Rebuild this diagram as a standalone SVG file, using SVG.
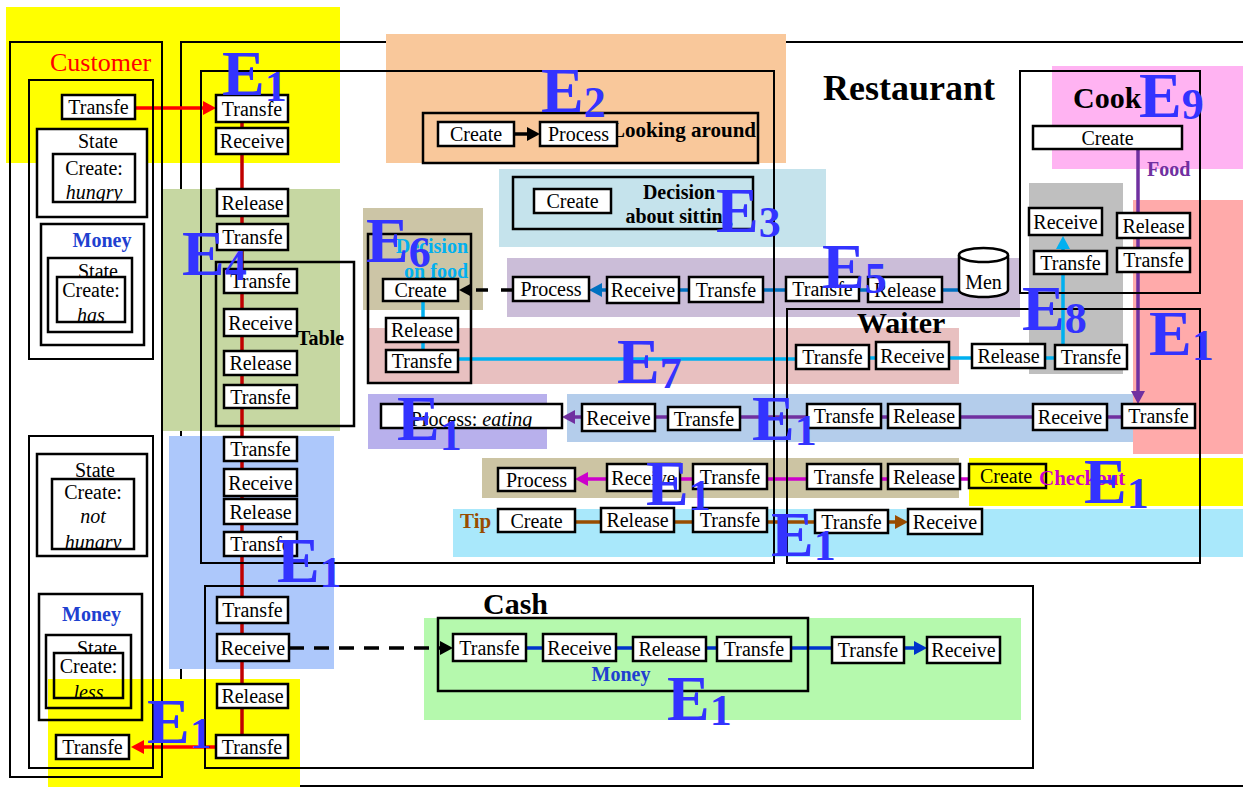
<svg xmlns="http://www.w3.org/2000/svg" width="1243" height="787" viewBox="0 0 1243 787">
<defs>
<style>
.b{fill:#fff;stroke:#000;stroke-width:2.5}
.n{fill:none;stroke:#000;stroke-width:2.5}
.o{fill:none;stroke:#000;stroke-width:2}
.t{font-family:'Liberation Serif','Times New Roman',serif;font-size:20px;text-anchor:middle;fill:#000}
.i{font-style:italic}
.h{font-family:'Liberation Serif','Times New Roman',serif;font-weight:bold;fill:#000}
.E{font-family:'Liberation Serif','Times New Roman',serif;font-weight:bold;font-size:64px;fill:#3333FF}
.s{font-size:44px}
.l{fill:none;stroke-width:3.5}
</style>
<marker id="aR" viewBox="0 0 13 14" refX="0" refY="7" markerUnits="userSpaceOnUse" markerWidth="13" markerHeight="14" orient="auto"><path d="M0,0L13,7L0,14z" fill="#FF0000"/></marker>
<marker id="aK" viewBox="0 0 13 14" refX="0" refY="7" markerUnits="userSpaceOnUse" markerWidth="13" markerHeight="14" orient="auto"><path d="M0,0L13,7L0,14z" fill="#000"/></marker>
<marker id="aB" viewBox="0 0 13 14" refX="0" refY="7" markerUnits="userSpaceOnUse" markerWidth="13" markerHeight="14" orient="auto"><path d="M0,0L13,7L0,14z" fill="#0070C0"/></marker>
<marker id="aC" viewBox="0 0 13 14" refX="0" refY="7" markerUnits="userSpaceOnUse" markerWidth="13" markerHeight="14" orient="auto"><path d="M0,0L13,7L0,14z" fill="#00B0F0"/></marker>
<marker id="aP" viewBox="0 0 13 14" refX="0" refY="7" markerUnits="userSpaceOnUse" markerWidth="13" markerHeight="14" orient="auto"><path d="M0,0L13,7L0,14z" fill="#7030A0"/></marker>
<marker id="aM" viewBox="0 0 13 14" refX="0" refY="7" markerUnits="userSpaceOnUse" markerWidth="13" markerHeight="14" orient="auto"><path d="M0,0L13,7L0,14z" fill="#CC00CC"/></marker>
<marker id="aN" viewBox="0 0 13 14" refX="0" refY="7" markerUnits="userSpaceOnUse" markerWidth="13" markerHeight="14" orient="auto"><path d="M0,0L13,7L0,14z" fill="#994C00"/></marker>
<marker id="aD" viewBox="0 0 13 14" refX="0" refY="7" markerUnits="userSpaceOnUse" markerWidth="13" markerHeight="14" orient="auto"><path d="M0,0L13,7L0,14z" fill="#0033CC"/></marker>
<clipPath id="cp1"><rect x="53" y="154" width="82" height="48"/></clipPath>
<clipPath id="cp2"><rect x="57" y="277" width="68" height="45"/></clipPath>
<clipPath id="cp3"><rect x="52" y="479" width="82" height="70"/></clipPath>
<clipPath id="cp4"><rect x="54" y="653" width="69" height="45"/></clipPath>
<clipPath id="cp5"><rect x="46" y="635" width="85" height="18"/></clipPath>
<clipPath id="cp6"><rect x="381" y="404" width="181" height="24"/></clipPath>
</defs>

<rect x="6" y="7" width="334" height="156" fill="#FFFF00"/>
<g id="restaurant">
<rect class="o" x="181" y="42" width="1080" height="744"/>
<text class="h" x="823" y="100" font-size="36">Restaurant</text>
</g>

<g id="regions">
<rect x="386" y="34" width="400" height="129" fill="#F9C89B"/>
<rect x="499" y="169" width="327" height="78" fill="#C5E3EC"/>
<rect x="161" y="189" width="179" height="242" fill="#C6D7A2"/>
<rect x="363" y="208" width="120" height="102" fill="#CCC5A6"/>
<rect x="507" y="258" width="513" height="59" fill="#CBBDD8"/>
<rect x="368" y="328" width="591" height="56" fill="#E8C0C0"/>
<rect x="1029" y="183" width="94" height="191" fill="#BFBFBF"/>
<rect x="1052" y="66" width="191" height="103" fill="#FFB3F2"/>
<rect x="1133" y="200" width="110" height="254" fill="#FFAAAA"/>
<rect x="368" y="394" width="179" height="55" fill="#B8B0EC"/>
<rect x="567" y="394" width="566" height="48" fill="#B4CDEB"/>
<rect x="482" y="458" width="477" height="40" fill="#CCC4A3"/>
<rect x="969" y="458" width="274" height="48" fill="#FFFF00"/>
<rect x="453" y="509" width="790" height="48" fill="#A9E8FB"/>
<rect x="169" y="436" width="165" height="233" fill="#ADC8FB"/>
<rect x="424" y="618" width="597" height="102" fill="#B5F9AD"/>
<rect x="48" y="679" width="252" height="108" fill="#FFFF00"/>
</g>

<g id="connectors">
<line class="l" x1="135" y1="108" x2="203" y2="108" stroke="#FF0000" marker-end="url(#aR)"/>
<line class="l" x1="242" y1="122" x2="242" y2="735" stroke="#C00000"/>
<line class="l" x1="216" y1="747" x2="144" y2="747" stroke="#FF0000" marker-end="url(#aR)"/>
<line class="l" x1="514" y1="134" x2="527" y2="134" stroke="#000" marker-end="url(#aK)"/>
<path class="l" d="M679,290H689M763,290H786M859,290H868M942,290H959" stroke="#0070C0"/>
<line class="l" x1="607" y1="290" x2="602" y2="290" stroke="#0070C0" marker-end="url(#aB)"/>
<line class="l" x1="513" y1="290" x2="472" y2="290" stroke="#000" stroke-dasharray="12 13" marker-end="url(#aK)"/>
<path class="l" d="M423,301V350M458,359H796M869,358H876M949,358H972M1045,358H1055M1063,274V345" stroke="#00B0F0"/>
<line class="l" x1="1063" y1="251" x2="1063" y2="249" stroke="#00B0F0" marker-end="url(#aC)"/>
<line class="l" x1="1138" y1="149" x2="1138" y2="391" stroke="#7030A0" marker-end="url(#aP)"/>
<path class="l" d="M655,417H668M740,417H807M881,417H888M960,417H1033M1107,417H1122" stroke="#7030A0"/>
<line class="l" x1="582" y1="417" x2="575" y2="417" stroke="#7030A0" marker-end="url(#aP)"/>
<path class="l" d="M680,479H693M767,479H807M881,479H888M960,479H969" stroke="#CC00CC"/>
<line class="l" x1="607" y1="479" x2="588" y2="479" stroke="#CC00CC" marker-end="url(#aM)"/>
<path class="l" d="M575,522H601M674,522H693M767,522H815" stroke="#994C00"/>
<line class="l" x1="888" y1="522" x2="895" y2="522" stroke="#994C00" marker-end="url(#aN)"/>
<path class="l" d="M526,648H543M616,648H633M706,648H717M791,648H832" stroke="#0033CC"/>
<line class="l" x1="904" y1="648" x2="914" y2="648" stroke="#0033CC" marker-end="url(#aD)"/>
<line class="l" x1="289" y1="648" x2="440" y2="648" stroke="#000" stroke-dasharray="15 10" marker-end="url(#aK)"/>
</g>

<g id="customer">
<rect class="o" x="10" y="42" width="152" height="735"/>
<text x="50" y="71" font-family="'Liberation Serif','Times New Roman',serif" font-size="26" fill="#FF0000">Customer</text>
<rect class="o" x="29" y="80" width="124" height="279"/>
<rect class="o" x="29" y="436" width="124" height="332"/>
</g>
<g id="c-transfe-1"><rect class="b" x="62" y="95" width="73" height="24"/><text class="t" x="98.5" y="114">Transfe</text></g>
<g id="c-state-hungry">
<rect class="b" x="37" y="129" width="110" height="88"/>
<text class="t" x="98" y="148">State</text>
<rect class="b" x="53" y="154" width="82" height="48"/>
<text class="t" x="94" y="175">Create:</text>
<text class="t i" x="94" y="199" clip-path="url(#cp1)">hungry</text>
</g>
<g id="c-money-has">
<rect class="b" x="41" y="224" width="103" height="121"/>
<text class="h" x="102" y="247" font-size="20" text-anchor="middle" style="fill:#2040D0">Money</text>
<rect class="b" x="48" y="258" width="84" height="74"/>
<text class="t" x="98" y="278">State</text>
<rect class="b" x="57" y="277" width="68" height="45"/>
<text class="t" x="91" y="297">Create:</text>
<text class="t i" x="91" y="322" clip-path="url(#cp2)">has</text>
</g>
<g id="c-state-not-hungry">
<rect class="b" x="37" y="454" width="110" height="102"/>
<text class="t" x="95" y="477">State</text>
<rect class="b" x="52" y="479" width="82" height="70"/>
<text class="t" x="93" y="499">Create:</text>
<text class="t i" x="93" y="523">not</text>
<text class="t i" x="93" y="549" clip-path="url(#cp3)">hungry</text>
</g>
<g id="c-money-less">
<rect class="o" x="39" y="594" width="103" height="126" style="stroke-width:2.5"/>
<text class="h" x="91.5" y="621" font-size="20" text-anchor="middle" style="fill:#2040D0">Money</text>
<rect class="o" x="46" y="635" width="85" height="73" style="stroke-width:2.5"/>
<text class="t" x="97" y="655" clip-path="url(#cp5)">State</text>
<rect class="o" x="54" y="653" width="69" height="45" style="stroke-width:2.5"/>
<text class="t" x="88.5" y="673">Create:</text>
<text class="t i" x="88.5" y="699" clip-path="url(#cp4)">less</text>
</g>
<g id="c-transfe-2"><rect class="b" x="56" y="735" width="73" height="24"/><text class="t" x="92.5" y="754">Transfe</text></g>

<g id="dining"><rect class="o" x="201" y="71" width="573" height="492"/></g>
<g id="table"><rect class="n" x="216" y="262" width="138" height="164"/><text class="h" x="297" y="345" font-size="20">Table</text></g>
<g id="waiter"><rect class="o" x="787" y="309" width="413" height="254"/><text class="h" x="857" y="333" font-size="30">Waiter</text></g>
<g id="cook"><rect class="o" x="1020" y="71" width="180" height="222"/><text class="h" x="1073" y="108" font-size="30">Cook</text>
<text class="h" x="1147" y="176" font-size="20" style="fill:#7030A0">Food</text></g>
<g id="cash"><rect class="o" x="205" y="586" width="828" height="182"/><text class="h" x="483" y="614" font-size="30">Cash</text></g>
<g id="cash-money"><rect class="n" x="438" y="618" width="370" height="73"/><text class="h" x="621" y="681" font-size="20" text-anchor="middle" style="fill:#2040D0">Money</text></g>
<g id="looking-around"><rect class="n" x="423" y="113" width="335" height="50"/><text class="h" x="756" y="137" font-size="21" text-anchor="end">Looking around</text></g>
<g id="decision-sitting"><rect class="n" x="513" y="177" width="240" height="52"/>
<text class="h" x="679" y="199" font-size="20" text-anchor="middle">Decision</text>
<text class="h" x="679" y="223" font-size="20" text-anchor="middle">about sitting</text></g>
<g id="decision-food"><rect class="n" x="368" y="234" width="103" height="149"/>
<text class="h" x="468" y="253" font-size="20" text-anchor="end" style="fill:#00B0F0">Decision</text>
<text class="h" x="468" y="278" font-size="20" text-anchor="end" style="fill:#00B0F0">on food</text></g>
<g id="menu"><path class="b" d="M959,255V290A24.5,7 0 0 0 1008,290V255"/><ellipse class="b" cx="983.5" cy="255" rx="24.5" ry="7"/><text class="t" x="983.5" y="289">Men</text></g>

<g id="r1"><rect class="b" x="216" y="95" width="72" height="27"/><text class="t" x="252" y="115.5">Transfe</text></g>
<g id="r2"><rect class="b" x="216" y="128" width="72" height="26"/><text class="t" x="252" y="148">Receive</text></g>
<g id="r3"><rect class="b" x="217" y="189" width="71" height="27"/><text class="t" x="252.5" y="209.5">Release</text></g>
<g id="r4"><rect class="b" x="217" y="224" width="71" height="26"/><text class="t" x="252.5" y="244">Transfe</text></g>
<g id="t1"><rect class="b" x="224" y="269" width="73" height="24"/><text class="t" x="260.5" y="288">Transfe</text></g>
<g id="t2"><rect class="b" x="224" y="309" width="73" height="27"/><text class="t" x="260.5" y="329.5">Receive</text></g>
<g id="t3"><rect class="b" x="224" y="351" width="73" height="24"/><text class="t" x="260.5" y="370">Release</text></g>
<g id="t4"><rect class="b" x="224" y="385" width="73" height="23"/><text class="t" x="260.5" y="403.5">Transfe</text></g>
<g id="r5"><rect class="b" x="224" y="437" width="73" height="24"/><text class="t" x="260.5" y="456">Transfe</text></g>
<g id="r6"><rect class="b" x="224" y="469" width="73" height="27"/><text class="t" x="260.5" y="489.5">Receive</text></g>
<g id="r7"><rect class="b" x="224" y="499" width="73" height="25"/><text class="t" x="260.5" y="518.5">Release</text></g>
<g id="r8"><rect class="b" x="224" y="532" width="73" height="24"/><text class="t" x="260.5" y="551">Transfe</text></g>
<g id="r9"><rect class="b" x="217" y="597" width="71" height="26"/><text class="t" x="252.5" y="617">Transfe</text></g>
<g id="r10"><rect class="b" x="217" y="634" width="72" height="27"/><text class="t" x="253" y="654.5">Receive</text></g>
<g id="r11"><rect class="b" x="217" y="684" width="71" height="24"/><text class="t" x="252.5" y="703">Release</text></g>
<g id="r12"><rect class="b" x="216" y="735" width="72" height="23"/><text class="t" x="252" y="753.5">Transfe</text></g>

<g id="e2-create"><rect class="b" x="438" y="122" width="76" height="24"/><text class="t" x="476" y="141">Create</text></g>
<g id="e2-process"><rect class="b" x="540" y="122" width="77" height="24"/><text class="t" x="578.5" y="141">Process</text></g>
<g id="e3-create"><rect class="b" x="534" y="189" width="77" height="24"/><text class="t" x="572.5" y="208">Create</text></g>
<g id="e6-create"><rect class="b" x="383" y="279" width="75" height="22"/><text class="t" x="420.5" y="297">Create</text></g>
<g id="e6-release"><rect class="b" x="386" y="318" width="72" height="24"/><text class="t" x="422" y="337">Release</text></g>
<g id="e6-transfe"><rect class="b" x="386" y="350" width="72" height="22"/><text class="t" x="422" y="368">Transfe</text></g>
<g id="e5-process"><rect class="b" x="513" y="277" width="76" height="24"/><text class="t" x="551" y="296">Process</text></g>
<g id="e5-receive"><rect class="b" x="607" y="277" width="72" height="26"/><text class="t" x="643" y="297">Receive</text></g>
<g id="e5-transfe1"><rect class="b" x="689" y="277" width="74" height="25"/><text class="t" x="726" y="296.5">Transfe</text></g>
<g id="e5-transfe2"><rect class="b" x="786" y="277" width="73" height="24"/><text class="t" x="822.5" y="296">Transfe</text></g>
<g id="e5-release"><rect class="b" x="868" y="277" width="74" height="25"/><text class="t" x="905" y="296.5">Release</text></g>
<g id="cook-create"><rect class="b" x="1033" y="126" width="149" height="23"/><text class="t" x="1107.5" y="144.5">Create</text></g>
<g id="e8-receive"><rect class="b" x="1029" y="208" width="73" height="27"/><text class="t" x="1065.5" y="228.5">Receive</text></g>
<g id="e8-transfe"><rect class="b" x="1034" y="251" width="73" height="23"/><text class="t" x="1070.5" y="269.5">Transfe</text></g>
<g id="cook-release"><rect class="b" x="1117" y="213" width="73" height="25"/><text class="t" x="1153.5" y="232.5">Release</text></g>
<g id="cook-transfe"><rect class="b" x="1117" y="248" width="73" height="24"/><text class="t" x="1153.5" y="267">Transfe</text></g>
<g id="w-transfe1"><rect class="b" x="796" y="345" width="73" height="24"/><text class="t" x="832.5" y="364">Transfe</text></g>
<g id="w-receive1"><rect class="b" x="876" y="342" width="73" height="27"/><text class="t" x="912.5" y="362.5">Receive</text></g>
<g id="w-release1"><rect class="b" x="972" y="344" width="73" height="24"/><text class="t" x="1008.5" y="363">Release</text></g>
<g id="w-transfe2"><rect class="b" x="1055" y="345" width="72" height="24"/><text class="t" x="1091" y="364">Transfe</text></g>
<g id="eat-process"><rect class="b" x="381" y="404" width="181" height="24"/><text class="t" x="471.5" y="425.5" clip-path="url(#cp6)">Process: <tspan class="i">eating</tspan></text></g>
<g id="eat-receive"><rect class="b" x="582" y="404" width="73" height="27"/><text class="t" x="618.5" y="424.5">Receive</text></g>
<g id="eat-transfe1"><rect class="b" x="668" y="407" width="72" height="23"/><text class="t" x="704" y="425.5">Transfe</text></g>
<g id="eat-transfe2"><rect class="b" x="807" y="404" width="74" height="24"/><text class="t" x="844" y="423">Transfe</text></g>
<g id="eat-release"><rect class="b" x="888" y="404" width="72" height="24"/><text class="t" x="924" y="423">Release</text></g>
<g id="eat-receive2"><rect class="b" x="1033" y="404" width="74" height="26"/><text class="t" x="1070" y="424">Receive</text></g>
<g id="eat-transfe3"><rect class="b" x="1122" y="404" width="73" height="24"/><text class="t" x="1158.5" y="423">Transfe</text></g>
<g id="co-process"><rect class="b" x="498" y="468" width="77" height="23"/><text class="t" x="536.5" y="486.5">Process</text></g>
<g id="co-receive"><rect class="b" x="607" y="464" width="73" height="27"/><text class="t" x="643.5" y="484.5">Receive</text></g>
<g id="co-transfe1"><rect class="b" x="693" y="464" width="74" height="25"/><text class="t" x="730" y="483.5">Transfe</text></g>
<g id="co-transfe2"><rect class="b" x="807" y="464" width="74" height="25"/><text class="t" x="844" y="483.5">Transfe</text></g>
<g id="co-release"><rect class="b" x="888" y="464" width="72" height="25"/><text class="t" x="924" y="483.5">Release</text></g>
<g id="co-create"><rect class="n" x="969" y="464" width="77" height="24"/><text class="t" x="1006" y="483">Create</text>
<text class="h" x="1039" y="485" font-size="21" style="fill:#CC00CC">Checkout</text></g>
<g id="tip-create"><text class="h" x="460" y="528" font-size="21" style="fill:#994C00">Tip</text><rect class="b" x="498" y="509" width="77" height="23"/><text class="t" x="536.5" y="527.5">Create</text></g>
<g id="tip-release"><rect class="b" x="601" y="508" width="73" height="24"/><text class="t" x="637.5" y="527">Release</text></g>
<g id="tip-transfe1"><rect class="b" x="693" y="508" width="74" height="24"/><text class="t" x="730" y="527">Transfe</text></g>
<g id="tip-transfe2"><rect class="b" x="815" y="510" width="73" height="23"/><text class="t" x="851.5" y="528.5">Transfe</text></g>
<g id="tip-receive"><rect class="b" x="908" y="509" width="74" height="25"/><text class="t" x="945" y="528.5">Receive</text></g>
<g id="cash-transfe1"><rect class="b" x="453" y="634" width="73" height="27"/><text class="t" x="489.5" y="654.5">Transfe</text></g>
<g id="cash-receive1"><rect class="b" x="543" y="634" width="73" height="27"/><text class="t" x="579.5" y="654.5">Receive</text></g>
<g id="cash-release"><rect class="b" x="633" y="637" width="73" height="24"/><text class="t" x="669.5" y="656">Release</text></g>
<g id="cash-transfe2"><rect class="b" x="717" y="637" width="74" height="24"/><text class="t" x="754" y="656">Transfe</text></g>
<g id="cash-transfe3"><rect class="b" x="832" y="637" width="72" height="26"/><text class="t" x="868" y="657">Transfe</text></g>
<g id="cash-receive2"><rect class="b" x="927" y="637" width="73" height="26"/><text class="t" x="963.5" y="657">Receive</text></g>

<g id="labels">
<text class="E" x="222" y="95">E<tspan class="s" dy="6">1</tspan></text>
<text class="E" x="541" y="112">E<tspan class="s" dy="5">2</tspan></text>
<text class="E" x="716" y="232">E<tspan class="s" dy="5">3</tspan></text>
<text class="E" x="182" y="275">E<tspan class="s" dy="5">4</tspan></text>
<text class="E" x="366" y="262">E<tspan class="s" dy="5">6</tspan></text>
<text class="E" x="822" y="288">E<tspan class="s" dy="5">5</tspan></text>
<text class="E" x="1139" y="117">E<tspan class="s" dy="2">9</tspan></text>
<text class="E" x="1022" y="330">E<tspan class="s" dy="3">8</tspan></text>
<text class="E" x="1149" y="355">E<tspan class="s" dy="5">1</tspan></text>
<text class="E" x="617" y="383">E<tspan class="s" dy="5">7</tspan></text>
<text class="E" x="397" y="440">E<tspan class="s" dy="10">1</tspan></text>
<text class="E" x="752" y="440">E<tspan class="s" dy="5">1</tspan></text>
<text class="E" x="646" y="505">E<tspan class="s" dy="5">1</tspan></text>
<text class="E" x="1084" y="503">E<tspan class="s" dy="5">1</tspan></text>
<text class="E" x="771" y="556">E<tspan class="s" dy="4">1</tspan></text>
<text class="E" x="277" y="582">E<tspan class="s" dy="5">1</tspan></text>
<text class="E" x="667" y="720">E<tspan class="s" dy="5">1</tspan></text>
<text class="E" x="147" y="743">E<tspan class="s" dy="5">1</tspan></text>
</g>
</svg>
